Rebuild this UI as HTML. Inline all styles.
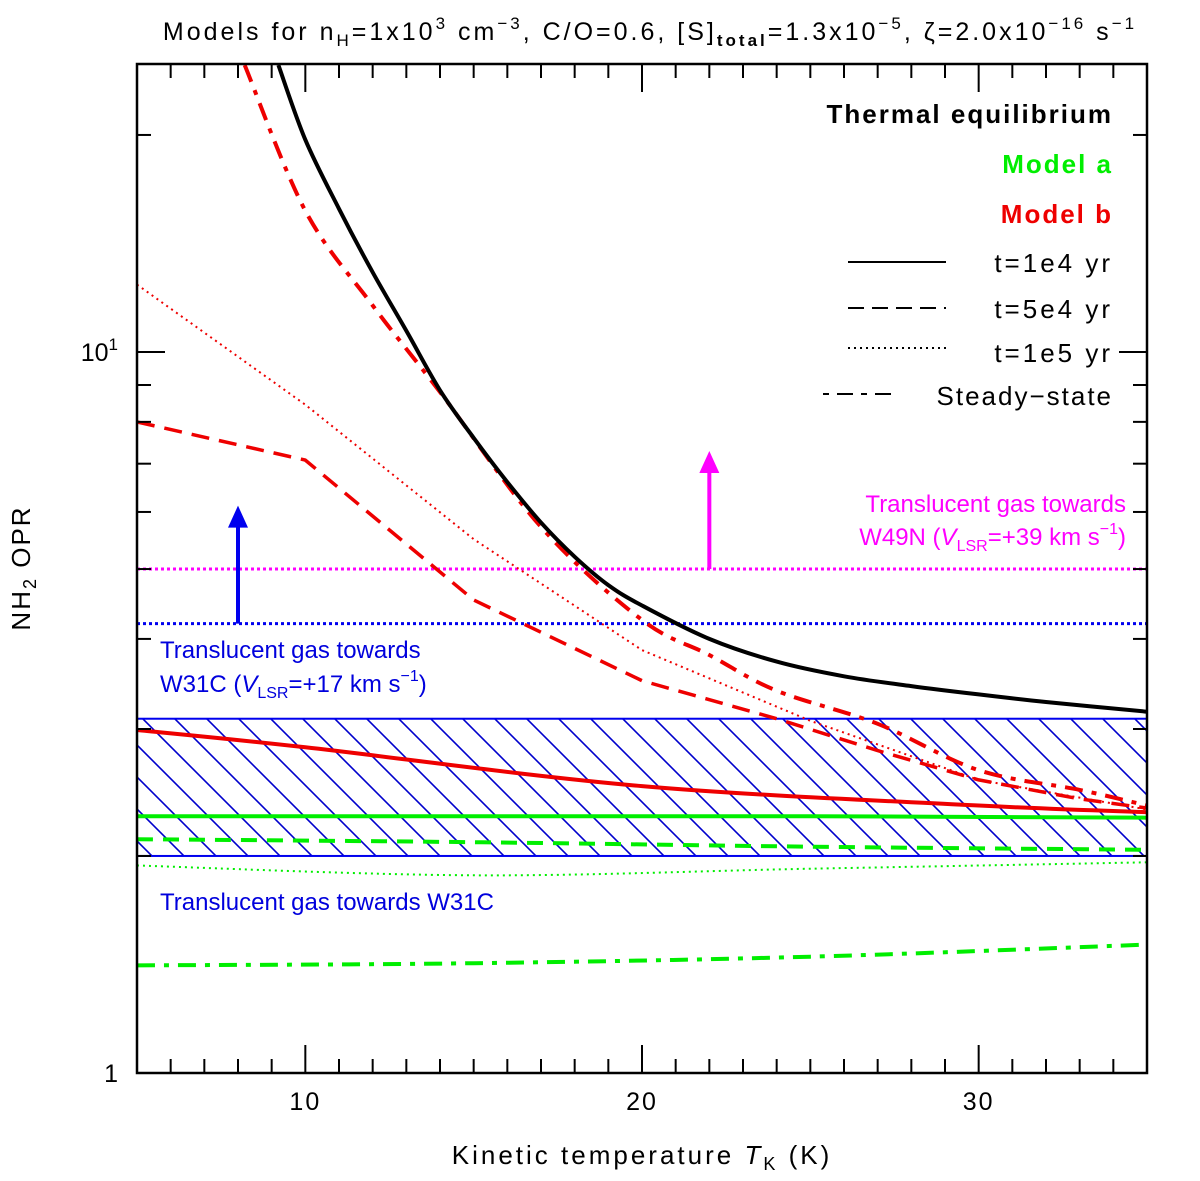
<!DOCTYPE html>
<html><head><meta charset="utf-8"><style>
body{margin:0;background:#fff}
svg{display:block;font-family:"Liberation Sans","DejaVu Sans",sans-serif}
</style></head><body>
<svg id="chart" width="1200" height="1181" viewBox="0 0 1200 1181">
<defs>
<pattern id="hatch" patternUnits="userSpaceOnUse" width="32" height="32">
<path d="M0,0 L32,32 M-16,16 L16,48 M16,-16 L48,16" stroke="#0000cc" stroke-width="1.6" fill="none"/>
</pattern>
<clipPath id="plotclip"><rect x="137" y="64" width="1010" height="1009"/></clipPath>
</defs>
<g id="marks" clip-path="url(#plotclip)"></g>
<g id="axes"></g>
<text x="650" y="40" text-anchor="middle" font-size="25" letter-spacing="3">Models for n<tspan font-size="17" dy="6">H</tspan><tspan dy="-6">=1x10</tspan><tspan font-size="17" dy="-11">3</tspan><tspan dy="11"> cm</tspan><tspan font-size="17" dy="-11">−3</tspan><tspan dy="11">, C/O=0.6, [S]</tspan><tspan font-size="17" dy="6" font-weight="bold">total</tspan><tspan dy="-6">=1.3x10</tspan><tspan font-size="17" dy="-11">−5</tspan><tspan dy="11">, ζ=2.0x10</tspan><tspan font-size="17" dy="-11">−16</tspan><tspan dy="11"> s</tspan><tspan font-size="17" dy="-11">−1</tspan></text>
<text x="642" y="1164" text-anchor="middle" font-size="26" letter-spacing="3">Kinetic temperature <tspan font-style="italic">T</tspan><tspan font-size="18" dy="6">K</tspan><tspan dy="-6"> (K)</tspan></text>
<text transform="translate(30,568) rotate(-90)" text-anchor="middle" font-size="26" letter-spacing="2">NH<tspan font-size="18" dy="6">2</tspan><tspan dy="-6"> OPR</tspan></text>
<g font-size="26" text-anchor="end">
<text x="1113" y="123" font-weight="bold" letter-spacing="2">Thermal equilibrium</text>
<text x="1113" y="173" font-weight="bold" letter-spacing="2" fill="#00ee00">Model a</text>
<text x="1113" y="223" font-weight="bold" letter-spacing="2" fill="#ee0000">Model b</text>
<text x="1113" y="272" letter-spacing="3">t=1e4 yr</text>
<text x="1113" y="318" letter-spacing="3">t=5e4 yr</text>
<text x="1113" y="362" letter-spacing="3">t=1e5 yr</text>
<text x="1113" y="405" letter-spacing="2">Steady−state</text>
<line x1="848" y1="262" x2="946" y2="262" stroke="#000" stroke-width="2"/>
<line x1="848" y1="308" x2="946" y2="308" stroke="#000" stroke-width="2" stroke-dasharray="16,8"/>
<line x1="848" y1="348" x2="946" y2="348" stroke="#000" stroke-width="2" stroke-dasharray="2,4"/>
<line x1="823" y1="394" x2="896" y2="394" stroke="#000" stroke-width="2" stroke-dasharray="6,8,16,8"/>
</g>
<g font-size="24">
<text x="1126" y="512" text-anchor="end" fill="#ff00ff">Translucent gas towards</text>
<text x="1126" y="545" text-anchor="end" fill="#ff00ff">W49N (<tspan font-style="italic">V</tspan><tspan font-size="16" dy="6">LSR</tspan><tspan dy="-6">=+39 km s</tspan><tspan font-size="16" dy="-11">−1</tspan><tspan dy="11">)</tspan></text>
<text x="160" y="658" fill="#0000dd">Translucent gas towards</text>
<text x="160" y="692" fill="#0000dd">W31C (<tspan font-style="italic">V</tspan><tspan font-size="16" dy="6">LSR</tspan><tspan dy="-6">=+17 km s</tspan><tspan font-size="16" dy="-11">−1</tspan><tspan dy="11">)</tspan></text>
<text x="160" y="910" fill="#0000dd">Translucent gas towards W31C</text>
</g>
</svg>
<script>
const tempThermal=[9.2,10,11,12,13,14,15,16,17,18,19,20,22,24,26,28,30,32,35];
const oprThermal=[25,19.7,15.8,12.9,10.7,8.85,7.6,6.6,5.8,5.2,4.75,4.45,4.0,3.72,3.55,3.44,3.35,3.27,3.17];
const tempRed=[5,10,15,20,24,27,30,33,35];
const tempRedSS=[8.2,10,12,14,17,20,22,24,27,30,33,35];
const oprRedSS=[25,15.7,11.6,8.8,5.72,4.25,3.8,3.39,3.05,2.63,2.47,2.35];
const oprRed5e4=[8.0,7.08,4.53,3.5,3.1,2.8,2.55,2.4,2.33];
const tempRed1e5=[5,10,15,20,25,30,35];
const oprRed1e5=[12.4,8.45,5.5,3.86,3.08,2.55,2.32];
const tempRedSolid=[5,10,20,30,35];
const oprRed1e4=[2.99,2.83,2.5,2.35,2.30];
const tempGreen=[5,15,25,35];
const oprGreen1e4=[2.27,2.27,2.27,2.26];
const oprGreen5e4=[2.11,2.09,2.06,2.04];
const oprGreen1e5=[1.94,1.88,1.92,1.96];
const oprGreenSS=[1.41,1.42,1.45,1.507];
const bandLimits=[2.0,3.1];
const oprW31C=4.2, oprW49N=5.0, tempArrowW31C=8, tempArrowW49N=22;
const xTicksMajor=[10,20,30];
const yTicksMajor=[1,10];

const X=t=>137+(t-5)*(1010/30);
const Y=v=>352-721*Math.log10(v/10);
const NS='http://www.w3.org/2000/svg';
const marks=document.getElementById('marks'), axes=document.getElementById('axes');
function mk(tag,attrs,parent){const e=document.createElementNS(NS,tag);for(const k in attrs)e.setAttribute(k,attrs[k]);parent.appendChild(e);return e;}
function line(xs,ys,color,w,dash,name,smooth){
  const P=xs.map((t,i)=>[X(t),Y(ys[i])]);
  let d='M'+P[0][0].toFixed(1)+','+P[0][1].toFixed(1);
  for(let i=0;i<P.length-1;i++){
    if(!smooth){d+=' L'+P[i+1][0].toFixed(1)+','+P[i+1][1].toFixed(1);continue;}
    const p0=P[Math.max(i-1,0)],p1=P[i],p2=P[i+1],p3=P[Math.min(i+2,P.length-1)];
    const c1=[p1[0]+(p2[0]-p0[0])/6,p1[1]+(p2[1]-p0[1])/6];
    const c2=[p2[0]-(p3[0]-p1[0])/6,p2[1]-(p3[1]-p1[1])/6];
    d+=` C${c1[0].toFixed(1)},${c1[1].toFixed(1)} ${c2[0].toFixed(1)},${c2[1].toFixed(1)} ${p2[0].toFixed(1)},${p2[1].toFixed(1)}`;
  }
  const p=mk('path',{d:d,fill:'none',stroke:color,'stroke-width':w,'stroke-dasharray':dash||'none','stroke-linejoin':'round'},marks);
  
  
}
const band=mk('rect',{x:X(5),y:Y(bandLimits[1]),width:X(35)-X(5),height:Y(bandLimits[0])-Y(bandLimits[1]),fill:'url(#hatch)',stroke:'#0000ee','stroke-width':2},marks);


const hb=mk('line',{x1:X(5),x2:X(35),y1:Y(oprW31C),y2:Y(oprW31C),stroke:'#0000ee','stroke-width':3,'stroke-dasharray':'3,3'},marks);


const hm=mk('line',{x1:X(5),x2:X(35),y1:Y(oprW49N),y2:Y(oprW49N),stroke:'#ff00ff','stroke-width':3,'stroke-dasharray':'3,3'},marks);


function arrow(t,v,color,name){
  const x=X(t),y0=Y(v),y1=y0-118;
  const g=mk('g',{},marks);
  
  
  mk('line',{x1:x,x2:x,y1:y0,y2:y1+20,stroke:color,'stroke-width':4},g);
  mk('polygon',{points:`${x-10},${y1+22} ${x+10},${y1+22} ${x},${y1}`,fill:color},g);
}
arrow(tempArrowW31C,oprW31C,'#0000ee','w31c-arrow');
arrow(tempArrowW49N,oprW49N,'#ff00ff','w49n-arrow');
line(tempGreen,oprGreen1e4,'#00ee00',4,null,'green-t1e4',true);
line(tempGreen,oprGreen5e4,'#00ee00',4,'16,10','green-t5e4',true);
line(tempGreen,oprGreen1e5,'#00ee00',2,'2,4','green-t1e5',true);
line(tempGreen,oprGreenSS,'#00ee00',4,'18,9,5,9','green-steady',true);
line(tempRedSolid,oprRed1e4,'#ee0000',4,null,'red-t1e4',true);
line(tempRed,oprRed5e4,'#ee0000',3.5,'18,10','red-t5e4',false);
line(tempRed1e5,oprRed1e5,'#ee0000',2,'2,4','red-t1e5',false);
line(tempRedSS,oprRedSS,'#ee0000',4,'18,9,5,9','red-steady',true);
line(tempThermal,oprThermal,'#000',4,null,'thermal-equilibrium',true);
const fr=mk('rect',{x:137,y:64,width:1010,height:1009,fill:'none',stroke:'#000','stroke-width':2.5},axes);


for(let t=6;t<=34;t++){
  const len=xTicksMajor.includes(t)?28:14;
  mk('line',{x1:X(t),x2:X(t),y1:1073,y2:1073-len,stroke:'#000','stroke-width':2},axes);
  mk('line',{x1:X(t),x2:X(t),y1:64,y2:64+len,stroke:'#000','stroke-width':2},axes);
}
xTicksMajor.forEach(t=>{
  const e=mk('text',{x:X(t),y:1110,'text-anchor':'middle','font-size':25,'letter-spacing':2},axes);
  e.textContent=t;
  
  
});
[2,3,4,5,6,7,8,9,10,20].forEach(v=>{
  const len=(v===10)?28:14, y=Y(v);
  mk('line',{x1:137,x2:137+len,y1:y,y2:y,stroke:'#000','stroke-width':2},axes);
  mk('line',{x1:1147,x2:1147-len,y1:y,y2:y,stroke:'#000','stroke-width':2},axes);
});
yTicksMajor.forEach(v=>{
  const e=mk('text',{x:118,y:Y(v)+9,'text-anchor':'end','font-size':25},axes);
  if(v===1){e.textContent='1';}else{e.textContent='10';const s=mk('tspan',{'font-size':17,dy:-11},e);s.textContent='1';}
  
  
});
</script>
</body></html>
